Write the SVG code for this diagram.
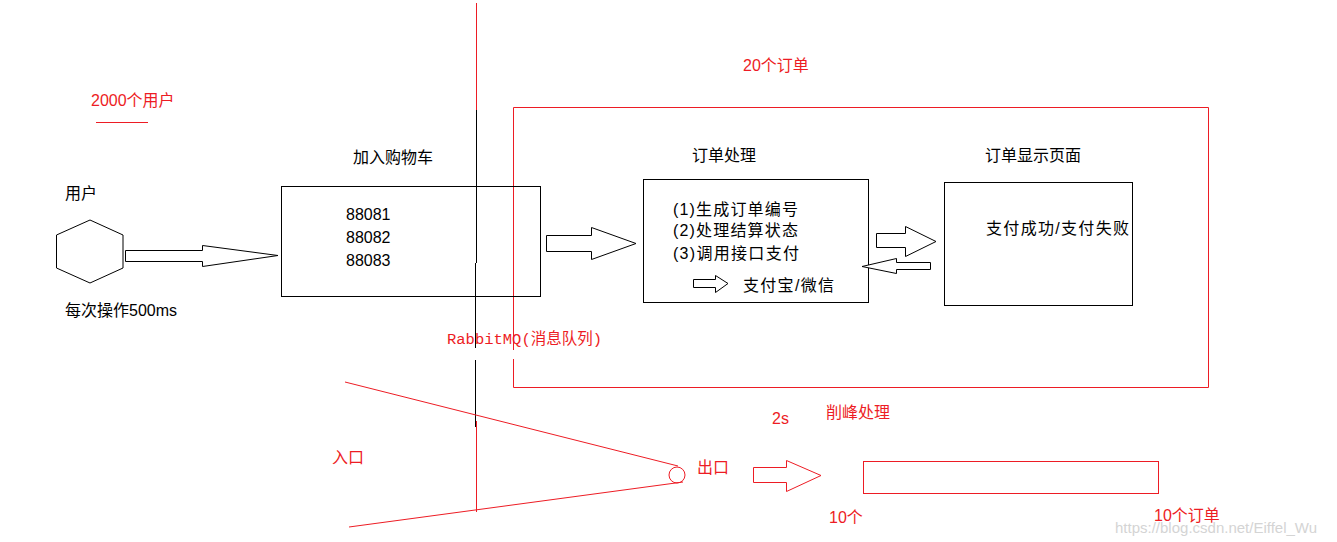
<svg xmlns="http://www.w3.org/2000/svg" width="1337" height="542" viewBox="0 0 1337 542">
<style>
text{font-family:"Liberation Sans","Noto Sans CJK SC",sans-serif;font-size:16px;fill:#000}
.r{fill:#ED1C24}
.mono{font-family:"Liberation Mono","Noto Sans CJK SC",monospace;font-size:15.5px}
.box{fill:none;stroke:#000;stroke-width:1}
.rbox{fill:none;stroke:#ED1C24;stroke-width:1}
.arrow{fill:#fff;stroke:#000;stroke-width:1}
.rarrow{fill:#fff;stroke:#ED1C24;stroke-width:1}
.bl{stroke:#000;stroke-width:1;fill:none}
.rl{stroke:#ED1C24;stroke-width:1;fill:none}
.wm{fill:#d4d4d4;font-size:15px}
</style>
<rect width="1337" height="542" fill="#fff"/>

<g id="divider">
<line class="rl" x1="476.5" y1="3" x2="476.5" y2="110"/>
<line class="bl" x1="476.5" y1="110" x2="476.5" y2="263"/>
<line class="bl" x1="475.5" y1="263" x2="475.5" y2="348"/>
<line class="bl" x1="475.5" y1="360" x2="475.5" y2="427"/>
<line class="rl" x1="476.5" y1="421" x2="476.5" y2="512"/>
</g>

<g id="order-area">
<polyline class="rl" points="513.5,350 513.5,107.5 1208.5,107.5 1208.5,387.5 513.5,387.5 513.5,359"/>
<text class="r" x="743" y="71">20个订单</text>
</g>

<g id="users-label">
<text class="r" x="91" y="106">2000个用户</text>
<line class="rl" x1="96" y1="122.5" x2="148" y2="122.5"/>
</g>

<g id="user">
<text x="65" y="199">用户</text>
<polygon class="box" points="90,220 123,235 123,268 90,283 56.5,268 56.5,235"/>
<text x="65" y="316">每次操作500ms</text>
</g>

<g id="cart">
<text x="353" y="163">加入购物车</text>
<rect class="box" x="281.5" y="186.5" width="259" height="110"/>
<text x="346" y="220">88081</text>
<text x="346" y="243">88082</text>
<text x="346" y="266">88083</text>
</g>

<g id="order-process">
<text x="692" y="161">订单处理</text>
<rect class="box" x="643.5" y="179.5" width="225" height="123"/>
<text x="673" y="215" textLength="125" lengthAdjust="spacing">(1)生成订单编号</text>
<text x="673" y="236" textLength="125" lengthAdjust="spacing">(2)处理结算状态</text>
<text x="673" y="259" textLength="126" lengthAdjust="spacing">(3)调用接口支付</text>
<text x="743" y="291" textLength="91" lengthAdjust="spacing">支付宝/微信</text>
</g>

<g id="order-display">
<text x="985" y="161">订单显示页面</text>
<rect class="box" x="944.5" y="182.5" width="188" height="123"/>
<text x="986" y="234" textLength="143" lengthAdjust="spacing">支付成功/支付失败</text>
</g>

<g id="rabbitmq">
<text class="r mono" x="447" y="344">RabbitMQ(消息队列)</text>
</g>

<g id="funnel">
<line class="rl" x1="345" y1="382" x2="678" y2="466"/>
<line class="rl" x1="349" y1="527" x2="683" y2="482"/>
<circle class="rl" cx="677" cy="475" r="8"/>
<text class="r" x="332" y="463">入口</text>
<text class="r" x="697" y="473">出口</text>
</g>

<g id="peak">
<text class="r" x="772" y="424">2s</text>
<text class="r" x="826" y="418">削峰处理</text>
<rect class="rbox" x="863.5" y="461.5" width="295" height="32"/>
<text class="r" x="829" y="523">10个</text>
<text class="r" x="1154" y="521">10个订单</text>
</g>

<g id="connectors">
<polygon class="arrow" points="125.5,250.5 202.5,250.5 202.5,245.5 278,255.5 202.5,266.5 202.5,261.5 125.5,261.5"/>
<polygon class="arrow" points="546.5,235.5 591.5,235.5 591.5,227.5 636,243.5 591.5,259.5 591.5,251.5 546.5,251.5"/>
<polygon class="arrow" points="693.5,279.5 715.5,279.5 715.5,275.5 728,283.5 715.5,292.5 715.5,287.5 693.5,287.5"/>
<polygon class="arrow" points="876.5,233.5 905.5,233.5 905.5,226.5 936,241.5 905.5,256.5 905.5,247.5 876.5,247.5"/>
<polygon class="arrow" points="930.5,262.5 896.5,262.5 896.5,258.5 862,266.5 896.5,273.5 896.5,269.5 930.5,269.5"/>
<polygon class="rarrow" points="753.5,467.5 786.5,467.5 786.5,460.5 821,475.5 786.5,491.5 786.5,482.5 753.5,482.5"/>
</g>

<text class="wm" x="1115" y="533">https://blog.csdn.net/Eiffel_Wu</text>
</svg>
